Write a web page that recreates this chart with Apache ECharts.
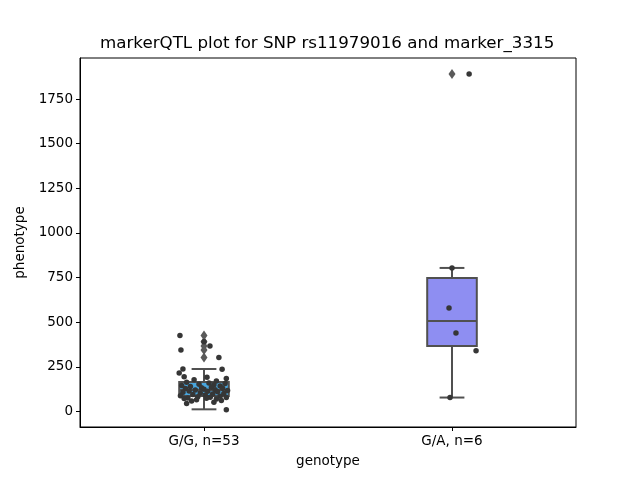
<!DOCTYPE html>
<html>
<head>
<meta charset="utf-8">
<script src="https://cdn.jsdelivr.net/npm/echarts@6/dist/echarts.min.js"></script>
<style>html,body{margin:0;padding:0;background:#fff}#c{width:640px;height:480px}</style>
</head>
<body>
<div id="c"></div>
<script>
// ---- data ----
var categories = ['G/G, n=53', 'G/A, n=6'];
var yTicks = [0, 250, 500, 750, 1000, 1250, 1500, 1750];
// box stats: [lower whisker, Q1, median, Q3, upper whisker]
var boxStats = [
  [12, 87, 120, 165, 238],
  [78, 367, 507, 747, 804]
];
var boxColors = ['#4aa6dd', '#8e8ef2'];
var ggOutliers = [425, 390, 367, 344, 303];
var gaOutliers = [1890];
var ggValues = [425, 390, 367, 344, 303, 238, 236, 216, 195, 192, 185, 178, 170, 164, 160, 156, 153, 150, 146, 143, 140, 136, 133, 130, 128, 125, 122, 120, 118, 115, 113, 110, 108, 104, 100, 98, 95, 92, 88, 85, 82, 80, 78, 76, 74, 72, 70, 66, 62, 58, 52, 45, 10];
var ggJitter = [-0.097, 0.0, 0.024, -0.093, 0.06, -0.085, 0.073, -0.1, -0.08, 0.012,
  0.09, -0.04, 0.05, -0.07, 0.02, 0.085, -0.02, 0.04, -0.09, 0.065,
  -0.055, 0.03, -0.01, 0.075, -0.075, 0.0, 0.045, -0.035, 0.095, -0.06,
  0.015, 0.055, -0.085, -0.015, 0.08, 0.035, -0.045, 0.005, -0.095, 0.065,
  -0.025, 0.025, 0.09, -0.065, 0.01, -0.08, 0.05, -0.03, 0.07, -0.05,
  0.04, -0.07, 0.09];
var gaValues = [1890, 804, 580, 440, 340, 78];
var gaJitter = [0.069, 0.0, -0.012, 0.016, 0.097, -0.008];

// ---- build series data ----
var boxData = boxStats.map(function (s, i) { return [i].concat(s); });
var outlierData = ggOutliers.map(function (v) { return [0, v]; })
  .concat(gaOutliers.map(function (v) { return [1, v]; }));
var pointData = ggValues.map(function (v, i) { return [0 + ggJitter[i], v]; })
  .concat(gaValues.map(function (v, i) { return [1 + gaJitter[i], v]; }));

var FONT = 'DejaVu Sans';
var chart = echarts.init(document.getElementById('c'), null, {renderer: 'canvas'});

function renderBox(params, api) {
  var idx = api.value(0);
  var lo = api.coord([idx, api.value(1)]);
  var q1 = api.coord([idx, api.value(2)]);
  var med = api.coord([idx, api.value(3)]);
  var q3 = api.coord([idx, api.value(4)]);
  var hi = api.coord([idx, api.value(5)]);
  var band = api.size([1, 0])[0];
  var w = band * 0.2;
  var cx = lo[0];
  var st = {stroke: '#505050', lineWidth: 2, fill: null};
  return {
    type: 'group',
    children: [
      {type: 'line', shape: {x1: cx, y1: q1[1], x2: cx, y2: lo[1]}, style: st},
      {type: 'line', shape: {x1: cx, y1: q3[1], x2: cx, y2: hi[1]}, style: st},
      {type: 'line', shape: {x1: cx - w / 4, y1: lo[1], x2: cx + w / 4, y2: lo[1]}, style: st},
      {type: 'line', shape: {x1: cx - w / 4, y1: hi[1], x2: cx + w / 4, y2: hi[1]}, style: st},
      {type: 'rect', shape: {x: cx - w / 2, y: q3[1], width: w, height: q1[1] - q3[1]},
        style: {fill: boxColors[idx], stroke: '#505050', lineWidth: 2}},
      {type: 'line', shape: {x1: cx - w / 2, y1: med[1], x2: cx + w / 2, y2: med[1]}, style: st}
    ]
  };
}

chart.setOption({
  animation: false,
  backgroundColor: '#ffffff',
  title: {
    text: 'markerQTL plot for SNP rs11979016 and marker_3315',
    left: 100, top: 35, padding: 0,
    textStyle: {fontFamily: FONT, fontSize: 16.7, fontWeight: 'normal', color: '#000'}
  },
  grid: {left: 80, right: 64, top: 58, bottom: 53, show: true, borderColor: '#000', borderWidth: 1, backgroundColor: 'transparent'},
  xAxis: [{
    type: 'category', data: categories,
    name: 'genotype', nameLocation: 'middle', nameGap: 27,
    nameTextStyle: {fontFamily: FONT, fontSize: 13.5, color: '#000', verticalAlign: 'top'},
    axisLine: {show: true, onZero: false, lineStyle: {color: '#000', width: 1}},
    axisTick: {show: true, alignWithLabel: true, length: 4, lineStyle: {color: '#000'}},
    axisLabel: {fontFamily: FONT, fontSize: 13.5, color: '#000', margin: 7},
    splitLine: {show: false}
  }, {
    type: 'value', min: -0.5, max: 1.5, show: false,
    axisLine: {onZero: false}
  }],
  yAxis: {
    type: 'value', min: -87, max: 1980,
    name: 'phenotype', nameLocation: 'middle', nameGap: 48,
    nameTextStyle: {fontFamily: FONT, fontSize: 13.5, color: '#000'},
    axisLine: {show: true, onZero: false, lineStyle: {color: '#000', width: 1}},
    axisTick: {show: true, length: 4, customValues: yTicks, lineStyle: {color: '#000'}},
    axisLabel: {fontFamily: FONT, fontSize: 13.5, color: '#000', margin: 7, customValues: yTicks,
      formatter: function (v) { return String(v); }},
    splitLine: {show: false}
  },
  series: [{
    type: 'custom', xAxisIndex: 0, renderItem: renderBox, data: boxData,
    encode: {x: 0, y: [1, 2, 3, 4, 5]}, z: 2
  }, {
    type: 'scatter', xAxisIndex: 0, data: outlierData, symbol: 'diamond', symbolSize: [7, 10],
    itemStyle: {color: '#5a5a5a', opacity: 1}, z: 3
  }, {
    type: 'scatter', xAxisIndex: 1, data: pointData, symbol: 'circle', symbolSize: 5.5,
    itemStyle: {color: '#363636', opacity: 1}, z: 4
  }]
});
</script>
</body>
</html>
